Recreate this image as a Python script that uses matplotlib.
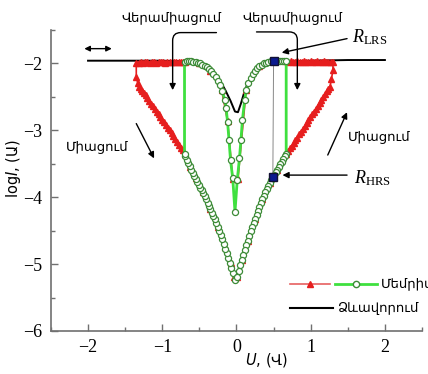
import matplotlib
matplotlib.use("Agg")
import matplotlib.pyplot as plt
from matplotlib.ticker import MultipleLocator

plt.rcParams['mathtext.fontset'] = 'custom'
plt.rcParams['mathtext.rm'] = 'Liberation Serif'
plt.rcParams['mathtext.it'] = 'Liberation Serif:italic'
plt.rcParams['mathtext.sf'] = 'DejaVu Sans:italic'

ARM = ['Liberation Sans', 'DejaVu Sans']
SERIF = ['Liberation Serif', 'DejaVu Serif']

# forming curve
form_x = [-2.0, -1.5, -1.0, -0.7, -0.5, -0.4, -0.3, -0.22, -0.15, -0.08, -0.02,
          0.02, 0.06, 0.1, 0.15, 0.22, 0.3, 0.4, 0.55, 0.7, 1.0, 1.5, 2.0]
form_y = [-1.96, -1.96, -1.96, -1.97, -2.0, -2.05, -2.14, -2.26, -2.4, -2.56, -2.72,
          -2.73, -2.6, -2.45, -2.3, -2.16, -2.07, -2.02, -1.98, -1.97, -1.96, -1.95, -1.95]

# memristor, green circles (full cycle)
green_x = [-0.02, -0.05, -0.07, -0.09, -0.11, -0.13, -0.15, -0.17, -0.19, -0.21,
           -0.23, -0.25, -0.27, -0.29, -0.31, -0.33, -0.35, -0.37, -0.39, -0.41,
           -0.43, -0.45, -0.47, -0.49, -0.51, -0.53, -0.55, -0.57, -0.59, -0.61,
           -0.63, -0.65, -0.67, -0.69, -0.70,
           -0.70, -0.67, -0.64, -0.61, -0.58, -0.55, -0.52, -0.49, -0.46, -0.43,
           -0.40, -0.37, -0.34, -0.31, -0.28, -0.25, -0.22, -0.19, -0.16, -0.14,
           -0.12, -0.10, -0.08, -0.05, -0.02,
           0.01, 0.04, 0.06, 0.08, 0.11, 0.13, 0.16, 0.19, 0.22, 0.25, 0.28,
           0.31, 0.34, 0.37, 0.40, 0.43, 0.46, 0.49, 0.52, 0.55, 0.58, 0.61,
           0.64, 0.67,
           0.67, 0.65, 0.63, 0.61, 0.59, 0.57, 0.55, 0.53, 0.51, 0.49, 0.47,
           0.45, 0.43, 0.41, 0.39, 0.37, 0.35, 0.33, 0.31, 0.29, 0.27, 0.25,
           0.23, 0.21, 0.19, 0.17, 0.15, 0.13, 0.11, 0.09, 0.07, 0.05, 0.03, 0.01]
green_y = [-5.24, -5.14, -5.06, -4.98, -4.91, -4.84, -4.77, -4.70, -4.63, -4.57,
           -4.51, -4.45, -4.39, -4.33, -4.28, -4.23, -4.18, -4.13, -4.08, -4.03,
           -3.98, -3.94, -3.90, -3.86, -3.82, -3.78, -3.73, -3.69, -3.64, -3.59,
           -3.54, -3.49, -3.44, -3.39, -3.35,
           -1.98, -1.97, -1.97, -1.97, -1.98, -1.98, -1.99, -2.00, -2.02, -2.04,
           -2.06, -2.09, -2.12, -2.16, -2.21, -2.27, -2.33, -2.42, -2.54, -2.66,
           -2.88, -3.15, -3.45, -3.72, -4.22,
           -3.75, -3.42, -3.15, -2.85, -2.55, -2.40, -2.30, -2.22, -2.16, -2.11, -2.07,
           -2.04, -2.02, -2.00, -1.99, -1.98, -1.97, -1.97, -1.97, -1.97, -1.97, -1.97,
           -1.97, -1.97,
           -3.35, -3.39, -3.43, -3.47, -3.51, -3.55, -3.59, -3.63, -3.67, -3.71, -3.75,
           -3.79, -3.83, -3.88, -3.93, -3.98, -4.03, -4.08, -4.14, -4.20, -4.26, -4.32,
           -4.38, -4.44, -4.51, -4.58, -4.65, -4.72, -4.79, -4.86, -4.94, -5.02, -5.10, -5.19]

# memristor, red triangles, negative sweep
red_neg_x = [-0.03, -0.08, -0.15, -0.25, -0.35, -0.45, -0.55, -0.62,
             -0.70, -0.725, -0.75, -0.775, -0.80, -0.825, -0.85, -0.875, -0.90,
             -0.925, -0.95, -0.975, -1.00, -1.025, -1.05, -1.075, -1.10, -1.125,
             -1.15, -1.175, -1.20, -1.225, -1.25, -1.27, -1.29, -1.31, -1.33, -1.35,
             -1.35, -1.32, -1.29, -1.26, -1.23, -1.20, -1.17, -1.14, -1.11, -1.08,
             -1.05, -1.02, -0.99, -0.96, -0.93, -0.90, -0.87, -0.84, -0.81, -0.78,
             -0.75, -0.72, -0.70,
             -0.50, -0.35, -0.20, -0.12, -0.05]
red_neg_y = [-5.20, -4.98, -4.74, -4.44, -4.17, -3.93, -3.72, -3.55,
             -3.35, -3.30, -3.26, -3.22, -3.17, -3.13, -3.09, -3.04, -3.00,
             -2.96, -2.92, -2.88, -2.84, -2.80, -2.76, -2.72, -2.68, -2.64,
             -2.60, -2.56, -2.52, -2.48, -2.44, -2.41, -2.38, -2.35, -2.30, -2.20,
             -2.00, -1.99, -1.98, -1.99, -1.98, -1.98, -1.99, -1.98, -1.98, -1.99,
             -1.98, -1.98, -1.98, -1.99, -1.98, -1.98, -1.98, -1.98, -1.98, -1.98,
             -1.98, -1.98, -1.98,
             -2.00, -2.11, -2.40, -2.86, -3.73]

# memristor, red triangles, positive sweep
red_pos_x = [0.02, 0.13, 0.30, 0.50,
             0.67, 0.70, 0.73, 0.76, 0.79, 0.82, 0.85, 0.88, 0.91, 0.94, 0.97,
             1.00, 1.03, 1.06, 1.09, 1.12, 1.15, 1.18, 1.21, 1.24, 1.27, 1.30,
             1.30, 1.28, 1.26, 1.24, 1.22, 1.195, 1.17, 1.145, 1.12, 1.095, 1.07,
             1.045, 1.02, 0.995, 0.97, 0.945, 0.92, 0.895, 0.87, 0.845, 0.82,
             0.795, 0.77, 0.745, 0.72, 0.695, 0.67,
             0.55, 0.45, 0.35, 0.25, 0.15, 0.07, 0.01]
red_pos_y = [-3.73, -2.40, -2.04, -1.97,
             -1.97, -1.98, -1.97, -1.98, -1.98, -1.97, -1.98, -1.98, -1.97, -1.98, -1.98,
             -1.97, -1.98, -1.98, -1.97, -1.98, -1.98, -1.97, -1.98, -1.98, -1.98, -1.98,
             -2.10, -2.23, -2.35, -2.39, -2.42, -2.46, -2.51, -2.55, -2.59, -2.63, -2.68,
             -2.72, -2.76, -2.80, -2.85, -2.89, -2.94, -2.98, -3.02, -3.06, -3.11,
             -3.15, -3.19, -3.23, -3.27, -3.31, -3.35,
             -3.59, -3.79, -4.03, -4.32, -4.65, -4.94, -5.19]

# read points
read_x = [0.50, 0.49]
read_y = [-1.97, -3.70]

fig = plt.figure(figsize=(4.28, 3.74), dpi=100)
ax = fig.add_axes([0.119, 0.115, 0.867, 0.805])

ax.plot(form_x, form_y, color='black', lw=1.4, zorder=2)
ax.plot(red_neg_x, red_neg_y, color='#e61e1e', lw=1.2, marker='^', ms=4.5,
        mec='#e61e1e', mfc='#e61e1e', zorder=3)
ax.plot(red_pos_x, red_pos_y, color='#e61e1e', lw=1.2, marker='^', ms=4.5,
        mec='#e61e1e', mfc='#e61e1e', zorder=3)
ax.plot(green_x, green_y, color='#3fe03f', lw=2, marker='o', ms=4.4,
        mfc='white', mec='#3d8b37', mew=0.9, zorder=4)
ax.plot(read_x, read_y, color='#888888', lw=0.7, zorder=5)
ax.plot(read_x, read_y, ls='none', marker='s', ms=5.5, mfc='#0b1a8f',
        mec='#111133', zorder=6)

ax.set_xlim(-2.5, 2.5)
ax.set_ylim(-6, -1.5)
ax.set_xticks([-2, -1, 0, 1, 2])
ax.set_yticks([-6, -5, -4, -3, -2])
ax.xaxis.set_minor_locator(MultipleLocator(0.5))
ax.yaxis.set_minor_locator(MultipleLocator(0.5))
for s in ['top', 'right']:
    ax.spines[s].set_visible(False)
for s in ['left', 'bottom']:
    ax.spines[s].set_color('#707070')
    ax.spines[s].set_linewidth(1.2)
ax.tick_params(which='major', direction='in', length=5, width=1, color='#707070',
               labelsize=13, pad=6)
ax.tick_params(which='minor', direction='in', length=3, width=1, color='#707070')
for lab in ax.get_xticklabels() + ax.get_yticklabels():
    lab.set_family(SERIF)

# DejaVu Sans first, so the Armenian letters outside the math part render
ax.set_xlabel(r'$\mathsf{U}$, (Վ)', family='DejaVu Sans', fontsize=10.5)
ax.xaxis.set_label_coords(0.58, -0.065)
ax.set_ylabel(r'log$\mathsf{I}$, (Ա)', family='DejaVu Sans', fontsize=10.5)
ax.yaxis.set_label_coords(-0.075, 0.54)

arr = dict(arrowstyle='-|>', color='black', lw=1, mutation_scale=9, shrinkA=0, shrinkB=0)

# double arrow top left
ax.annotate('', xy=(-2.05, -1.78), xytext=(-1.68, -1.78),
            arrowprops=dict(arrowstyle='<|-|>', color='black', lw=1, mutation_scale=8,
                            shrinkA=0, shrinkB=0), annotation_clip=False)

ax.text(-0.88, -1.31, 'Վերամիացում', family=ARM, fontsize=9.5, ha='center', va='center',
        clip_on=False)
ax.annotate('', xy=(-0.86, -2.40), xytext=(-0.27, -1.54), annotation_clip=False,
            arrowprops=dict(arr, connectionstyle='angle,angleA=0,angleB=90,rad=8'))
ax.text(0.76, -1.31, 'Վերամիացում', family=ARM, fontsize=9.5, ha='center', va='center',
        clip_on=False)
ax.annotate('', xy=(0.82, -2.40), xytext=(0.27, -1.53), annotation_clip=False,
            arrowprops=dict(arr, connectionstyle='angle,angleA=0,angleB=90,rad=8'))

ax.text(1.55, -1.61, r'$R_{\mathrm{LRS}}$', fontsize=13, ha='left', va='center')
ax.annotate('', xy=(0.61, -1.84), xytext=(1.49, -1.63), arrowprops=arr)
ax.text(1.59, -3.72, r'$R_{\mathrm{HRS}}$', fontsize=13, ha='left', va='center')
ax.annotate('', xy=(0.62, -3.67), xytext=(1.49, -3.67), arrowprops=arr)

ax.text(-1.88, -3.25, 'Միացում', family=ARM, fontsize=9.5, ha='center', va='center')
ax.annotate('', xy=(-1.11, -3.42), xytext=(-1.35, -2.9), arrowprops=arr)
ax.text(1.92, -3.1, 'Միացում', family=ARM, fontsize=9.5, ha='center', va='center')
ax.annotate('', xy=(1.49, -2.73), xytext=(1.23, -3.37), arrowprops=arr)

# legend drawn by hand
ax.plot([0.644, 0.752], [0.156, 0.156], transform=ax.transAxes, color='#e66060', lw=1.2,
        clip_on=False)
ax.plot([0.698], [0.156], transform=ax.transAxes, marker='^', ms=5, color='#e61e1e',
        clip_on=False)
ax.plot([0.766, 0.879], [0.156, 0.156], transform=ax.transAxes, color='#3fe03f', lw=2,
        clip_on=False)
ax.plot([0.822], [0.156], transform=ax.transAxes, marker='o', ms=4.5, mfc='white',
        mec='#3d8b37', clip_on=False)
ax.text(0.888, 0.156, 'Մեմրիստոր', transform=ax.transAxes, family=ARM, fontsize=9.5,
        ha='left', va='center', clip_on=False)
ax.plot([0.644, 0.76], [0.076, 0.076], transform=ax.transAxes, color='black', lw=1.5,
        clip_on=False)
ax.text(0.773, 0.076, 'Ձևավորում', transform=ax.transAxes, family=ARM, fontsize=9.5,
        ha='left', va='center', clip_on=False)

fig.savefig('out.png', dpi=100)
